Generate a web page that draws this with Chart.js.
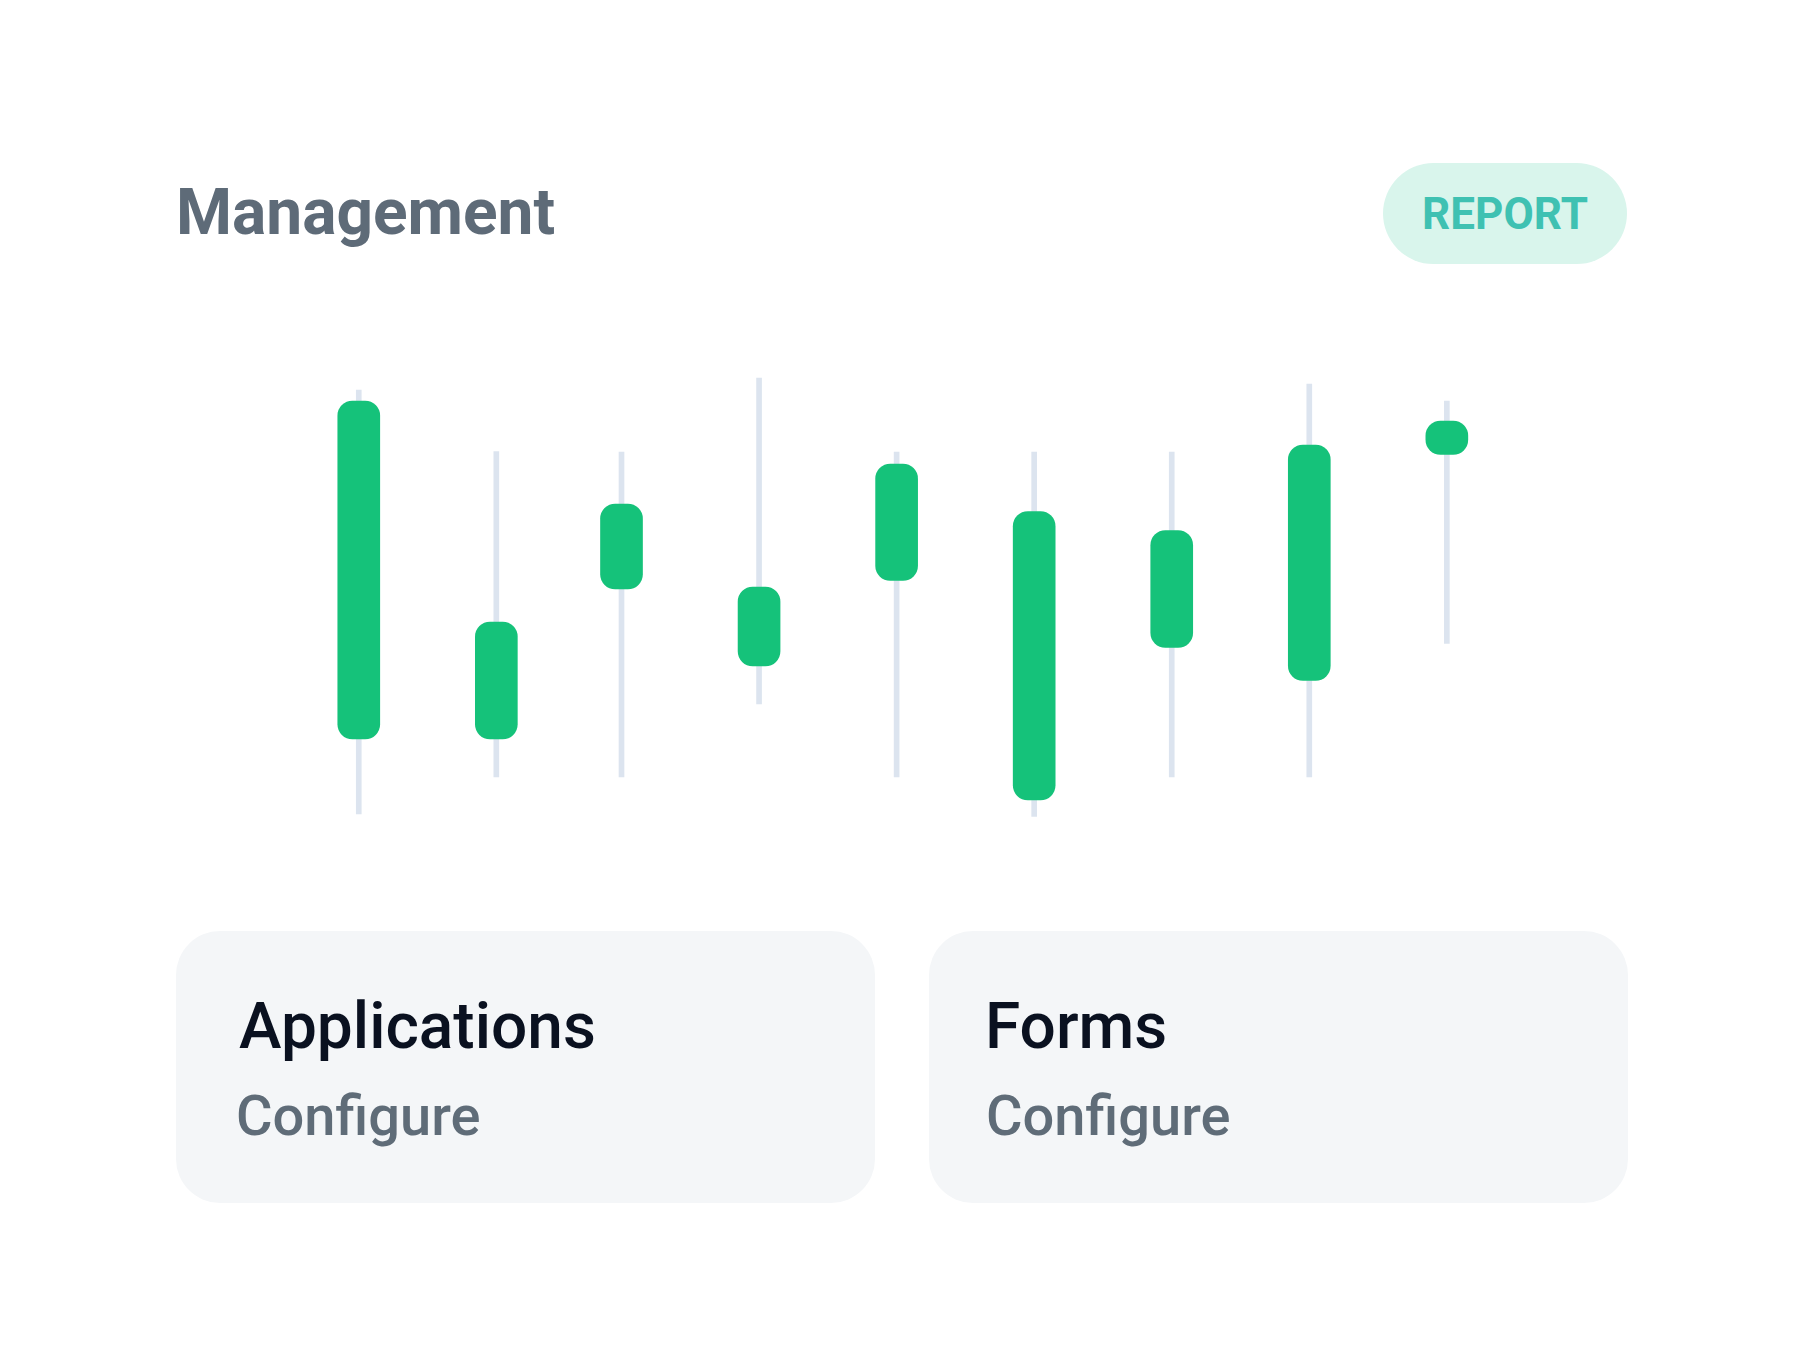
<!DOCTYPE html>
<html>
<head>
<meta charset="utf-8">
<title>Management</title>
<script src="https://cdn.jsdelivr.net/npm/chart.js@4"></script>
<style>
  html, body { margin: 0; padding: 0; background: #fff; }
  body { width: 1798px; height: 1346px; position: relative; overflow: hidden; font-family: Roboto, "Noto Sans", sans-serif; }
  .abs { position: absolute; white-space: nowrap; }
  #title { left: 176px; top: 181px; font-size: 64px; line-height: 64px; font-weight: 700; color: #5e6b78; }
  #report { left: 1383px; top: 163px; width: 244px; height: 101px; border-radius: 51px; background: #d9f5ec;
    display: flex; align-items: center; justify-content: center; font-size: 44px; font-weight: 700; color: #3fc1b2; }
  .card { position: absolute; top: 931px; width: 699px; height: 272px; border-radius: 44px; background: #f4f6f8; }
  .card h2 { position: absolute; margin: 0; top: 64px; font-size: 64px; line-height: 64px; font-weight: 500; color: #0a1120; }
  .card p { position: absolute; margin: 0; top: 157px; font-size: 56px; line-height: 56px; font-weight: 500; color: #5f6c78; }
  #chart-wrap { position: absolute; left: 290px; top: 360px; width: 1238px; height: 480px; }
</style>
</head>
<body>
<div id="title" class="abs">Management</div>
<div id="report" class="abs">REPORT</div>

<div id="chart-wrap"><canvas id="candles" width="1238" height="480"></canvas></div>

<div class="card" style="left:176px">
  <h2 style="left:63px">Applications</h2>
  <p style="left:60px">Configure</p>
</div>
<div class="card" style="left:929px">
  <h2 style="left:56px">Forms</h2>
  <p style="left:57px">Configure</p>
</div>

<script>
// candle slots (x) and prices
const slots = [0, 1, 1.91, 2.91, 3.91, 4.91, 5.91, 6.91, 7.91];
const opens  = [32.2, 32.2, 62.2, 46.8, 63.9, 20.0, 50.5, 43.9, 89.1];
const closes = [99.8, 55.6, 79.2, 62.6, 87.2, 77.7, 73.9, 91.0, 95.8];
const highs  = [102.0, 89.7, 89.6, 104.4, 89.6, 89.6, 89.6, 103.2, 99.8];
const lows   = [17.2, 24.6, 24.6, 39.2, 24.6, 16.7, 24.6, 24.6, 51.3];

const green = '#15c27a';
const wickColor = '#dce4ef';

const bodies = slots.map((x, i) => ({ x: x, y: [opens[i], closes[i]] }));
const wicks = slots.map((x, i) => ({ x: x, y: [lows[i], highs[i]] }));

new Chart(document.getElementById('candles').getContext('2d'), {
  type: 'bar',
  data: {
    datasets: [
      {
        label: 'body',
        data: bodies,
        backgroundColor: green,
        barThickness: 42,
        borderRadius: 15,
        borderSkipped: false,
        grouped: false,
        order: 0
      },
      {
        label: 'wick',
        data: wicks,
        backgroundColor: wickColor,
        barThickness: 5,
        borderRadius: 0,
        borderSkipped: false,
        grouped: false,
        order: 1
      }
    ]
  },
  options: {
    responsive: false,
    animation: false,
    layout: { padding: 0 },
    plugins: { legend: { display: false }, tooltip: { enabled: false } },
    scales: {
      x: { type: 'linear', min: -0.5, max: 8.5, offset: false, display: false },
      y: { min: 12, max: 108, display: false }
    }
  }
});
</script>
</body>
</html>
